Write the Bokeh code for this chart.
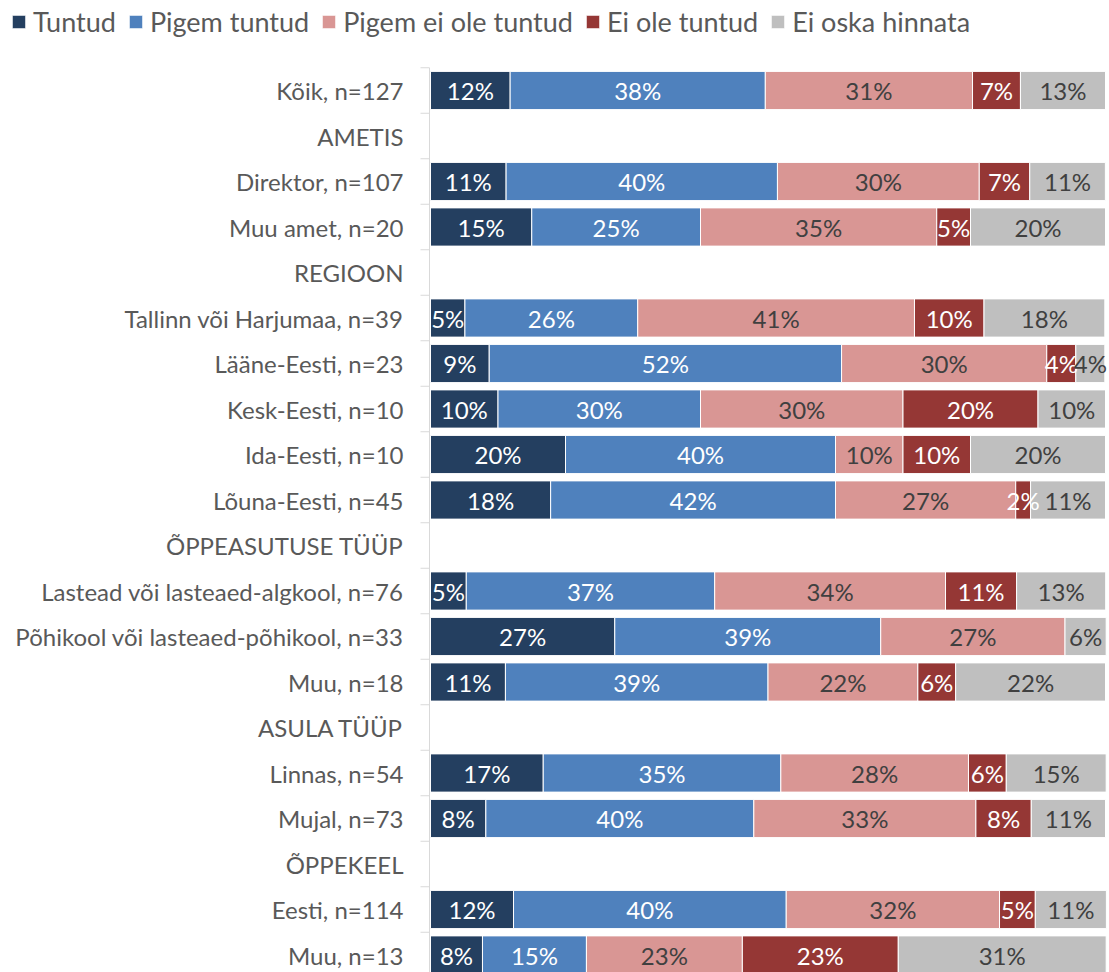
from bokeh.plotting import figure
from bokeh.models import ColumnDataSource, Range1d, Legend, LegendItem
from bokeh.core.properties import value
from bokeh.embed import file_html
from bokeh.resources import INLINE

categories = [
    "Kõik, n=127", "AMETIS", "Direktor, n=107", "Muu amet, n=20", "REGIOON",
    "Tallinn või Harjumaa, n=39", "Lääne-Eesti, n=23", "Kesk-Eesti, n=10",
    "Ida-Eesti, n=10", "Lõuna-Eesti, n=45", "ÕPPEASUTUSE TÜÜP",
    "Lastead või lasteaed-algkool, n=76", "Põhikool või lasteaed-põhikool, n=33",
    "Muu, n=18", "ASULA TÜÜP", "Linnas, n=54", "Mujal, n=73", "ÕPPEKEEL",
    "Eesti, n=114", "Muu, n=13",
]

series_names = ["Tuntud", "Pigem tuntud", "Pigem ei ole tuntud", "Ei ole tuntud", "Ei oska hinnata"]

tuntud =         [11.8, 0, 11.2, 15, 0, 5.1, 8.7, 10, 20, 17.8, 0, 5.3, 27.3, 11.1, 0, 16.7, 8.2, 0, 12.3, 7.7]
pigem_tuntud =   [37.8, 0, 40.2, 25, 0, 25.6, 52.2, 30, 40, 42.2, 0, 36.8, 39.4, 38.9, 0, 35.2, 39.7, 0, 40.4, 15.4]
pigem_ei_ole =   [30.7, 0, 29.9, 35, 0, 41.0, 30.4, 30, 10, 26.7, 0, 34.2, 27.3, 22.2, 0, 27.8, 32.9, 0, 31.6, 23.1]
ei_ole_tuntud =  [7.1, 0, 7.48, 5, 0, 10.3, 4.3, 20, 10, 2.2, 0, 10.53, 0, 5.6, 0, 5.6, 8.2, 0, 5.3, 23.1]
ei_oska =        [12.6, 0, 11.2, 20, 0, 17.9, 4.3, 10, 20, 11.1, 0, 13.2, 6.1, 22.2, 0, 14.8, 11.0, 0, 10.53, 30.8]

series = [tuntud, pigem_tuntud, pigem_ei_ole, ei_ole_tuntud, ei_oska]
colors = ["#243F60", "#4F81BD", "#D99694", "#953735", "#BFBFBF"]
label_colors = ["white", "white", "#404040", "white", "#404040"]

FONT = "Lato"
n = len(categories)

# layout constants (pixels)
W, H = 1109, 972
BAR_X0, BAR_X1 = 430, 1105     # screen x of 0% and 100%
ROW0_Y, ROW_STEP = 90, 45.5     # screen y of first row centre, row spacing
PX = 100.0 / (BAR_X1 - BAR_X0)  # data units per pixel (x)

x_start = -BAR_X0 * PX
x_end = 100 + (W - BAR_X1) * PX
y_top = -ROW0_Y / ROW_STEP
y_bot = (H - ROW0_Y) / ROW_STEP

p = figure(width=W, height=H, output_backend="svg", toolbar_location=None,
           x_range=Range1d(x_start, x_end), y_range=Range1d(y_bot, y_top),
           min_border_left=0, min_border_right=0, min_border_bottom=0, min_border_top=0)
p.outline_line_color = None
p.grid.visible = False
p.axis.visible = False

renderers = []
lx, ly, lt, lc = [], [], [], []
cum = [0.0] * n
for s_idx, vals in enumerate(series):
    left, right, ys = [], [], []
    for i, v in enumerate(vals):
        if v > 0:
            left.append(cum[i])
            right.append(cum[i] + v)
            ys.append(i)
            lx.append(cum[i] + v / 2)
            ly.append(i)
            lt.append(f"{int(v + 0.5)}%")
            lc.append(label_colors[s_idx])
            cum[i] += v
    src = ColumnDataSource(dict(left=left, right=right, y=ys))
    r = p.hbar(y="y", left="left", right="right", height=0.84, source=src,
               fill_color=colors[s_idx], line_color="white", line_width=1)
    renderers.append(r)

# value labels
tsrc = ColumnDataSource(dict(x=lx, y=ly, text=lt, color=lc))
p.text(x="x", y="y", text="text", source=tsrc, text_color="color",
       text_align="center", text_baseline="middle",
       text_font=value(FONT), text_font_size="24px")

# category axis: line, boundary ticks, labels
ax_x = -1 * PX
p.segment(x0=[ax_x], x1=[ax_x], y0=[-0.5], y1=[n - 0.5], line_color="#D9D9D9", line_width=1)
bounds = [i - 0.5 for i in range(n + 1)]
p.segment(x0=[ax_x] * len(bounds), x1=[ax_x - 9 * PX] * len(bounds), y0=bounds, y1=bounds,
          line_color="#D9D9D9", line_width=1)
csrc = ColumnDataSource(dict(y=list(range(n)), text=categories))
p.text(x=0, y="y", text="text", source=csrc, x_offset=-27,
       text_align="right", text_baseline="middle", text_color="#595959",
       text_font=value(FONT), text_font_size="24px")

legend = Legend(items=[LegendItem(label=series_names[k], renderers=[renderers[k]]) for k in range(5)],
                orientation="horizontal", location=(10, H - 38))
legend.label_text_font = FONT
legend.label_text_font_size = "27px"
legend.label_text_color = "#595959"
legend.glyph_width = 17
legend.glyph_height = 17
legend.label_standoff = 6
legend.spacing = 11
legend.padding = 0
legend.margin = 0
legend.border_line_color = None
legend.background_fill_alpha = 0
p.add_layout(legend, "center")

open("out.html", "w").write(file_html(p, INLINE))
